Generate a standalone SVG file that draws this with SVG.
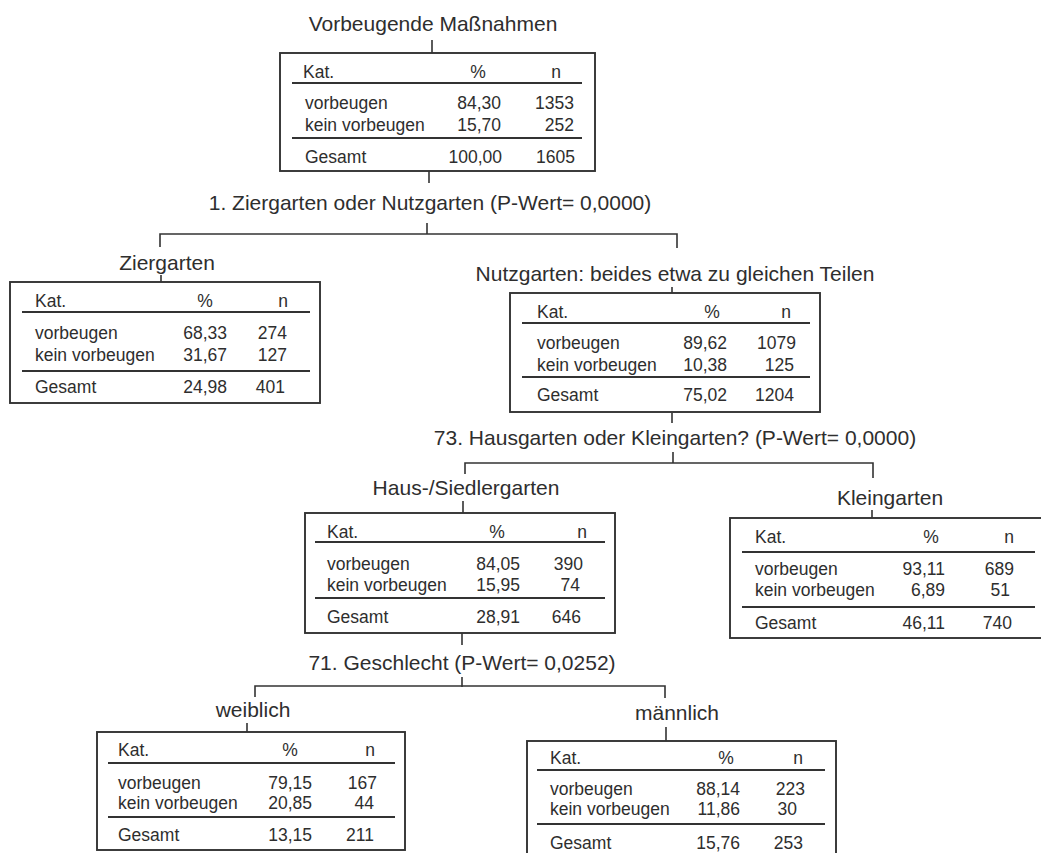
<svg xmlns="http://www.w3.org/2000/svg" width="1041" height="853" viewBox="0 0 1041 853">
<style>
text{font-family:"Liberation Sans",Arial,sans-serif;fill:#2e2e2e}
.lbl{font-size:21px;text-anchor:middle}
.t{font-size:17.5px}
.m{text-anchor:middle}
.e{text-anchor:end}
.box{fill:#fff;stroke:#333;stroke-width:1.9}
.hl{stroke:#333;stroke-width:2}
.c{stroke:#333;stroke-width:1.6;fill:none}
</style>
<rect width="1041" height="853" fill="#fff"/>

<g id="connectors">
<path class="c" d="M432 40V53"/>
<path class="c" d="M429 171V183"/>
<path class="c" d="M427 223V234"/>
<path class="c" d="M160 247V234H677V248"/>
<path class="c" d="M161 275V282"/>
<path class="c" d="M672 287V293"/>
<path class="c" d="M672 413V423"/>
<path class="c" d="M673 452V463"/>
<path class="c" d="M465 474V463H873V478"/>
<path class="c" d="M463 501V513"/>
<path class="c" d="M872 510V518"/>
<path class="c" d="M462 633V645"/>
<path class="c" d="M462 677V687"/>
<path class="c" d="M255 697V686H665V698"/>
<path class="c" d="M247 723V732"/>
<path class="c" d="M666 727V741"/>
</g>

<g id="n0">
<text class="lbl" x="433" y="31">Vorbeugende Maßnahmen</text>
<rect class="box" x="280" y="53" width="315" height="118"/>
<text class="t" x="303" y="78">Kat.</text>
<text class="t m" x="478" y="78">%</text>
<text class="t m" x="556" y="78">n</text>
<line class="hl" x1="292" y1="83" x2="582" y2="83"/>
<text class="t" x="305" y="109">vorbeugen</text>
<text class="t e" x="501" y="109">84,30</text>
<text class="t e" x="574" y="109">1353</text>
<text class="t" x="305" y="131">kein vorbeugen</text>
<text class="t e" x="501" y="131">15,70</text>
<text class="t e" x="574" y="131">252</text>
<line class="hl" x1="292" y1="138" x2="582" y2="138"/>
<text class="t" x="305" y="163">Gesamt</text>
<text class="t e" x="502" y="163">100,00</text>
<text class="t e" x="575" y="163">1605</text>
</g>

<g id="split1">
<text class="lbl" x="430" y="210">1. Ziergarten oder Nutzgarten (P-Wert= 0,0000)</text>
</g>

<g id="n1">
<text class="lbl" x="167" y="270">Ziergarten</text>
<rect class="box" x="10" y="282" width="310" height="121"/>
<text class="t" x="35" y="307">Kat.</text>
<text class="t m" x="205" y="307">%</text>
<text class="t m" x="283" y="307">n</text>
<line class="hl" x1="22" y1="312" x2="310" y2="312"/>
<text class="t" x="35" y="339">vorbeugen</text>
<text class="t e" x="227" y="339">68,33</text>
<text class="t e" x="287" y="339">274</text>
<text class="t" x="35" y="361">kein vorbeugen</text>
<text class="t e" x="227" y="361">31,67</text>
<text class="t e" x="287" y="361">127</text>
<line class="hl" x1="22" y1="371" x2="310" y2="371"/>
<text class="t" x="35" y="393">Gesamt</text>
<text class="t e" x="227" y="393">24,98</text>
<text class="t e" x="285" y="393">401</text>
</g>

<g id="n2">
<text class="lbl" x="675" y="281">Nutzgarten: beides etwa zu gleichen Teilen</text>
<rect class="box" x="510" y="293" width="310" height="119"/>
<text class="t" x="537" y="318">Kat.</text>
<text class="t m" x="712" y="318">%</text>
<text class="t m" x="786" y="318">n</text>
<line class="hl" x1="522" y1="323" x2="810" y2="323"/>
<text class="t" x="537" y="349">vorbeugen</text>
<text class="t e" x="727" y="349">89,62</text>
<text class="t e" x="796" y="349">1079</text>
<text class="t" x="537" y="371">kein vorbeugen</text>
<text class="t e" x="727" y="371">10,38</text>
<text class="t e" x="794" y="371">125</text>
<line class="hl" x1="522" y1="377" x2="810" y2="377"/>
<text class="t" x="537" y="401">Gesamt</text>
<text class="t e" x="727" y="401">75,02</text>
<text class="t e" x="794" y="401">1204</text>
</g>

<g id="split2">
<text class="lbl" x="675" y="445">73. Hausgarten oder Kleingarten? (P-Wert= 0,0000)</text>
</g>

<g id="n3">
<text class="lbl" x="466" y="495">Haus-/Siedlergarten</text>
<rect class="box" x="305" y="513" width="310" height="120"/>
<text class="t" x="327" y="538">Kat.</text>
<text class="t m" x="497" y="538">%</text>
<text class="t m" x="582" y="538">n</text>
<line class="hl" x1="315" y1="542" x2="605" y2="542"/>
<text class="t" x="327" y="570">vorbeugen</text>
<text class="t e" x="520" y="570">84,05</text>
<text class="t e" x="583" y="570">390</text>
<text class="t" x="327" y="591">kein vorbeugen</text>
<text class="t e" x="520" y="591">15,95</text>
<text class="t e" x="580" y="591">74</text>
<line class="hl" x1="315" y1="598" x2="605" y2="598"/>
<text class="t" x="327" y="623">Gesamt</text>
<text class="t e" x="520" y="623">28,91</text>
<text class="t e" x="581" y="623">646</text>
</g>

<g id="n4">
<text class="lbl" x="890" y="505">Kleingarten</text>
<rect class="box" x="730" y="518" width="316" height="120"/>
<text class="t" x="755" y="543">Kat.</text>
<text class="t m" x="931" y="543">%</text>
<text class="t m" x="1009" y="543">n</text>
<line class="hl" x1="742" y1="552" x2="1035" y2="552"/>
<text class="t" x="755" y="575">vorbeugen</text>
<text class="t e" x="945" y="575">93,11</text>
<text class="t e" x="1014" y="575">689</text>
<text class="t" x="755" y="596">kein vorbeugen</text>
<text class="t e" x="945" y="596">6,89</text>
<text class="t e" x="1010" y="596">51</text>
<line class="hl" x1="742" y1="607" x2="1035" y2="607"/>
<text class="t" x="755" y="629">Gesamt</text>
<text class="t e" x="945" y="629">46,11</text>
<text class="t e" x="1012" y="629">740</text>
</g>

<g id="split3">
<text class="lbl" x="462" y="670">71. Geschlecht (P-Wert= 0,0252)</text>
</g>

<g id="n5">
<text class="lbl" x="253" y="717">weiblich</text>
<rect class="box" x="97" y="732" width="308" height="118"/>
<text class="t" x="118" y="756">Kat.</text>
<text class="t m" x="290" y="756">%</text>
<text class="t m" x="370" y="756">n</text>
<line class="hl" x1="108" y1="763" x2="395" y2="763"/>
<text class="t" x="118" y="789">vorbeugen</text>
<text class="t e" x="312" y="789">79,15</text>
<text class="t e" x="377" y="789">167</text>
<text class="t" x="118" y="809">kein vorbeugen</text>
<text class="t e" x="312" y="809">20,85</text>
<text class="t e" x="374" y="809">44</text>
<line class="hl" x1="108" y1="817" x2="395" y2="817"/>
<text class="t" x="118" y="841">Gesamt</text>
<text class="t e" x="312" y="841">13,15</text>
<text class="t e" x="374" y="841">211</text>
</g>

<g id="n6">
<text class="lbl" x="677" y="720">männlich</text>
<rect class="box" x="527" y="741" width="309" height="120"/>
<text class="t" x="550" y="764">Kat.</text>
<text class="t m" x="726" y="764">%</text>
<text class="t m" x="798" y="764">n</text>
<line class="hl" x1="537" y1="770" x2="825" y2="770"/>
<text class="t" x="550" y="795">vorbeugen</text>
<text class="t e" x="740" y="795">88,14</text>
<text class="t e" x="805" y="795">223</text>
<text class="t" x="550" y="815">kein vorbeugen</text>
<text class="t e" x="740" y="815">11,86</text>
<text class="t e" x="797" y="815">30</text>
<line class="hl" x1="537" y1="824" x2="825" y2="824"/>
<text class="t" x="550" y="849">Gesamt</text>
<text class="t e" x="740" y="849">15,76</text>
<text class="t e" x="803" y="849">253</text>
</g>
</svg>
